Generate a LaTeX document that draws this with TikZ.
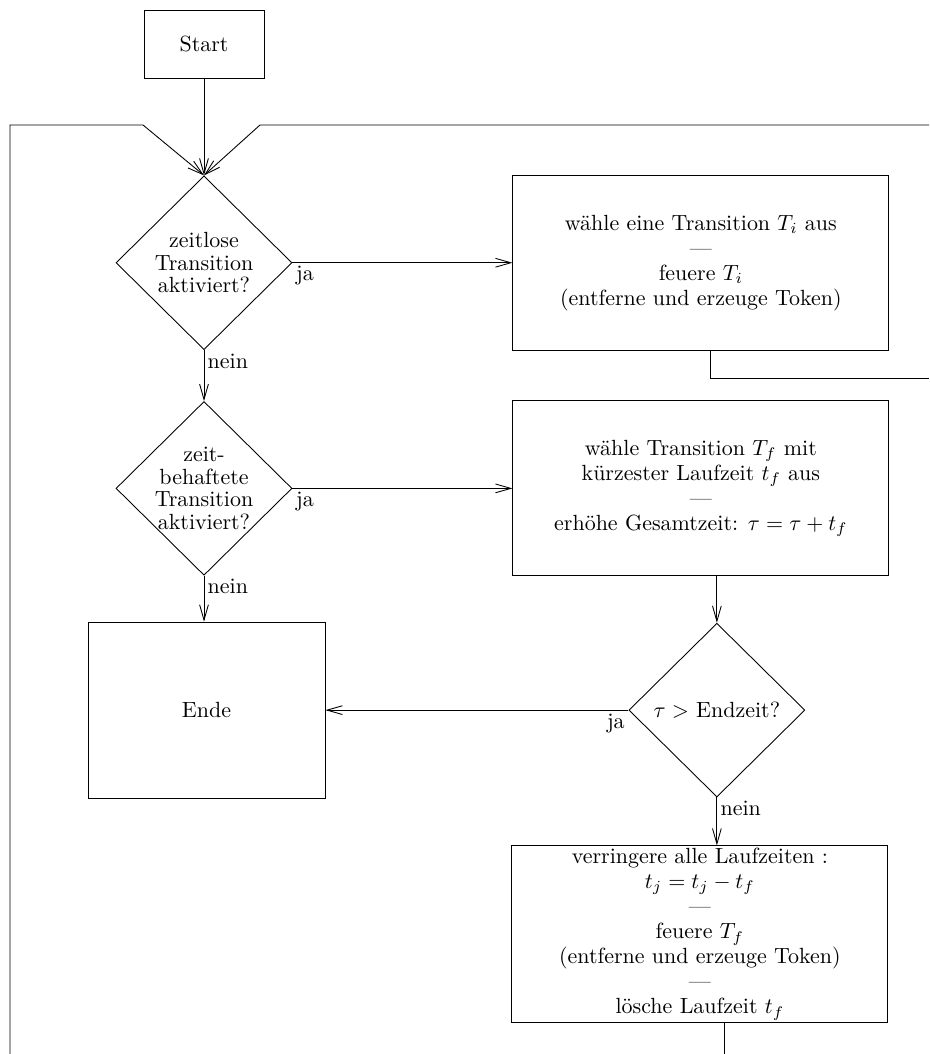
\documentclass[tikz,border=0pt]{standalone}
\usepackage{amsmath,amssymb}
\usepackage{tikz}
\usetikzlibrary{arrows.meta, positioning, shapes.geometric}
\begin{document}
\begin{tikzpicture}[
        node distance=1cm,
        box/.style={rectangle, draw, minimum width=6.016cm, minimum height=2.8cm, align=center, inner sep=1pt, font=\fontsize{10pt}{11.4pt}\selectfont},
        decision/.style={diamond, draw, aspect=1, minimum width=2.816cm, minimum height=2.78cm, inner sep=-4pt, align=center, font=\fontsize{10pt}{10.2pt}\selectfont},
        arrow/.style={-{Straight Barb[length=7pt,width=4pt]}},
        answer/.style={inner sep=1.5pt}
    ]
        \useasboundingbox (0,0) rectangle (14.864,-16.864);
        \node[rectangle, draw, minimum width=1.92cm, minimum height=1.088cm] (start) at (3.264,-0.704) {Start};
        \node[decision, below=1.552cm of start] (timeless) {zeitlose\\ Transition\\ aktiviert?};
        \node[box, right=3.52cm of timeless] (fire) {wähle eine Transition $T_i$ aus\\ ---\\ feuere $T_i$\\ (entferne und erzeuge Token)};
        \node[decision, below=0.816cm of timeless] (timed) {zeit-\\ behaftete\\ Transition\\ aktiviert?};
        \node[box, right=3.52cm of timed] (advance) {wähle Transition $T_f$ mit\\ kürzester Laufzeit $t_f$ aus\\ ---\\ erhöhe Gesamtzeit: $\tau = \tau + t_f$};
        \node[rectangle, draw, minimum width=3.792cm, minimum height=2.816cm, below=0.736cm of timed, xshift=0.04cm] (ende) {Ende};
        \node[decision, right=4.848cm of ende] (endcheck) {$\tau >$ Endzeit?};
        \node[box, below=0.768cm of endcheck, xshift=-0.272cm] (update) {verringere alle Laufzeiten :\\ $t_j = t_j - t_f$\\ ---\\ feuere $T_f$\\ (entferne und erzeuge Token)\\ ---\\ lösche Laufzeit $t_f$};
        \coordinate (loopbottom) at (0.16,-16.864);
        \coordinate (lkink) at (2.288,-2);
        \coordinate (rkink) at (4.16,-2);
        \coordinate (loopright) at (14.864,-2);
        \coordinate (exitright) at (14.864,-6.048);
        \draw[arrow] (start) -- (timeless);
        \draw[arrow] (loopbottom) |- (lkink) -- (timeless.north);
        \draw[arrow] (loopright) -- (rkink) -- (timeless.north);
        \draw[arrow] (timeless.east) -- (fire.west);
        \draw ([xshift=0.16cm]fire.south) |- (exitright);
        \draw[arrow] (timeless.south) -- (timed.north);
        \draw[arrow] (timed.east) -- (advance.west);
        \draw[arrow] (timed.south) -- (ende.north -| timed.south);
        \draw[arrow] (advance.south -| endcheck.north) -- (endcheck.north);
        \draw[arrow] (endcheck.west) -- (ende.east);
        \draw[arrow] (endcheck.south) -- (endcheck.south |- update.north);
        \draw ([xshift=0.4cm]update.south) -- ([xshift=0.4cm]update.south |- loopbottom);
        \node[answer, anchor=north west] at (timeless.east) {ja};
        \node[answer, anchor=north west] at (timeless.south) {nein};
        \node[answer, anchor=north west] at (timed.east) {ja};
        \node[answer, anchor=north west] at (timed.south) {nein};
        \node[answer, anchor=north east] at (endcheck.west) {ja};
        \node[answer, anchor=north west] at (endcheck.south) {nein};
    \end{tikzpicture}
\end{document}
